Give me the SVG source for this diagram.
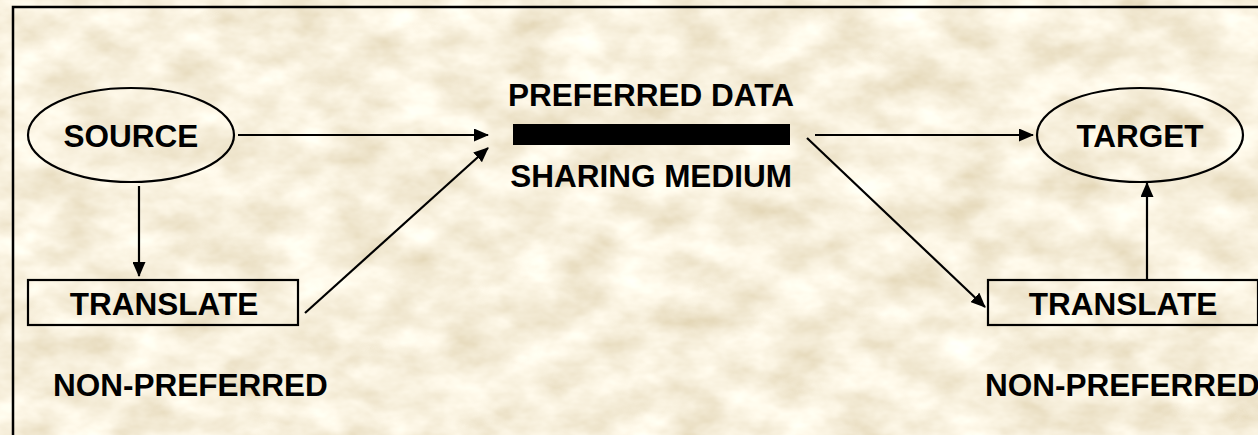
<svg xmlns="http://www.w3.org/2000/svg" width="1258" height="435" viewBox="0 0 1258 435">
<style>
.lbl{font-family:"Liberation Sans",Arial,sans-serif;font-weight:bold;font-size:31.5px;fill:#000}
.mid{text-anchor:middle}
.shape{fill:none;stroke:#000;stroke-width:2.2}
.conn{fill:none;stroke:#000;stroke-width:2.2;marker-end:url(#ah)}
</style>
<defs>
<marker id="ah" markerWidth="15" markerHeight="13" refX="14" refY="6.5" orient="auto" markerUnits="userSpaceOnUse">
<path d="M0,0 L15,6.5 L0,13 Z" fill="#000"/>
</marker>
<filter id="tex" x="0" y="0" width="100%" height="100%">
<feTurbulence type="fractalNoise" baseFrequency="0.018 0.03" numOctaves="4" seed="7"/>
<feColorMatrix type="matrix" values="0.4 0 0 0 0.735  0.48 0 0 0 0.632  0.62 0 0 0 0.412  0 0 0 0 1"/>
</filter>
</defs>
<rect width="1258" height="435" fill="#ECDDB6"/>
<rect width="1258" height="435" filter="url(#tex)"/>
<rect x="13" y="7" width="1260" height="440" fill="none" stroke="#000" stroke-width="2.5"/>

<g id="connectors">
<line class="conn" x1="139" y1="186" x2="139" y2="276"/>
<line class="conn" x1="238" y1="135" x2="488" y2="135"/>
<line class="conn" x1="305" y1="313" x2="488" y2="148"/>
<line class="conn" x1="815" y1="135" x2="1033" y2="135"/>
<line class="conn" x1="807" y1="138" x2="985" y2="307"/>
<line class="conn" x1="1147" y1="280" x2="1147" y2="183"/>
</g>

<g id="source">
<ellipse class="shape" cx="131" cy="135" rx="103" ry="47"/>
<text class="lbl mid" x="131" y="147">SOURCE</text>
</g>
<g id="translate-left">
<rect class="shape" x="28" y="280" width="270" height="45"/>
<text class="lbl mid" x="164" y="315">TRANSLATE</text>
</g>
<g id="label-nonpref-left">
<text class="lbl" x="53" y="396">NON-PREFERRED</text>
</g>
<g id="medium">
<text class="lbl mid" x="651" y="106">PREFERRED DATA</text>
<rect x="513" y="124" width="277" height="21" fill="#000"/>
<text class="lbl mid" x="651" y="187">SHARING MEDIUM</text>
</g>
<g id="target">
<ellipse class="shape" cx="1140" cy="135" rx="103" ry="47"/>
<text class="lbl mid" x="1140" y="147">TARGET</text>
</g>
<g id="translate-right">
<rect class="shape" x="988" y="280" width="270" height="45"/>
<text class="lbl mid" x="1123" y="315">TRANSLATE</text>
</g>
<g id="label-nonpref-right">
<text class="lbl" x="985" y="396">NON-PREFERRED</text>
</g>
</svg>
